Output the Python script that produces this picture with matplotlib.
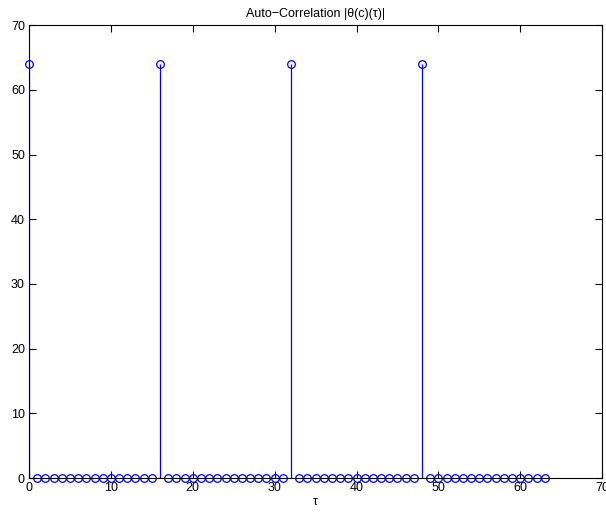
import matplotlib.pyplot as plt
import numpy as np

# auto-correlation values, tau = 0..63
tau = np.arange(64)
peak_lags = [0, 16, 32, 48]
peak_value = 64
acorr = np.zeros(64)
acorr[peak_lags] = peak_value

plt.rcParams['font.family'] = ['Liberation Sans', 'DejaVu Sans']
plt.rcParams['font.size'] = 9

fig = plt.figure(figsize=(6.06, 5.13), dpi=100)
ax = fig.add_axes([0.048, 0.068, 0.9455, 0.883])

ax.vlines(tau, 0, acorr, color='blue', linewidth=0.9)
ax.plot(tau, acorr, 'o', markerfacecolor='none', markeredgecolor='blue',
        markersize=5.5, markeredgewidth=0.9, linestyle='none', clip_on=False)

ax.set_xlim(0, 70)
ax.set_ylim(0, 70)
ax.set_xticks(np.arange(0, 71, 10))
ax.set_yticks(np.arange(0, 71, 10))
ax.tick_params(direction='in', top=True, right=True, length=5, width=0.8, pad=3)
for s in ax.spines.values():
    s.set_linewidth(0.8)

ax.set_title('Auto\u2212Correlation |\u03b8(c)(\u03c4)|', fontsize=9, pad=6)
ax.set_xlabel('\u03c4', labelpad=1)

fig.savefig('out.png', dpi=100)
